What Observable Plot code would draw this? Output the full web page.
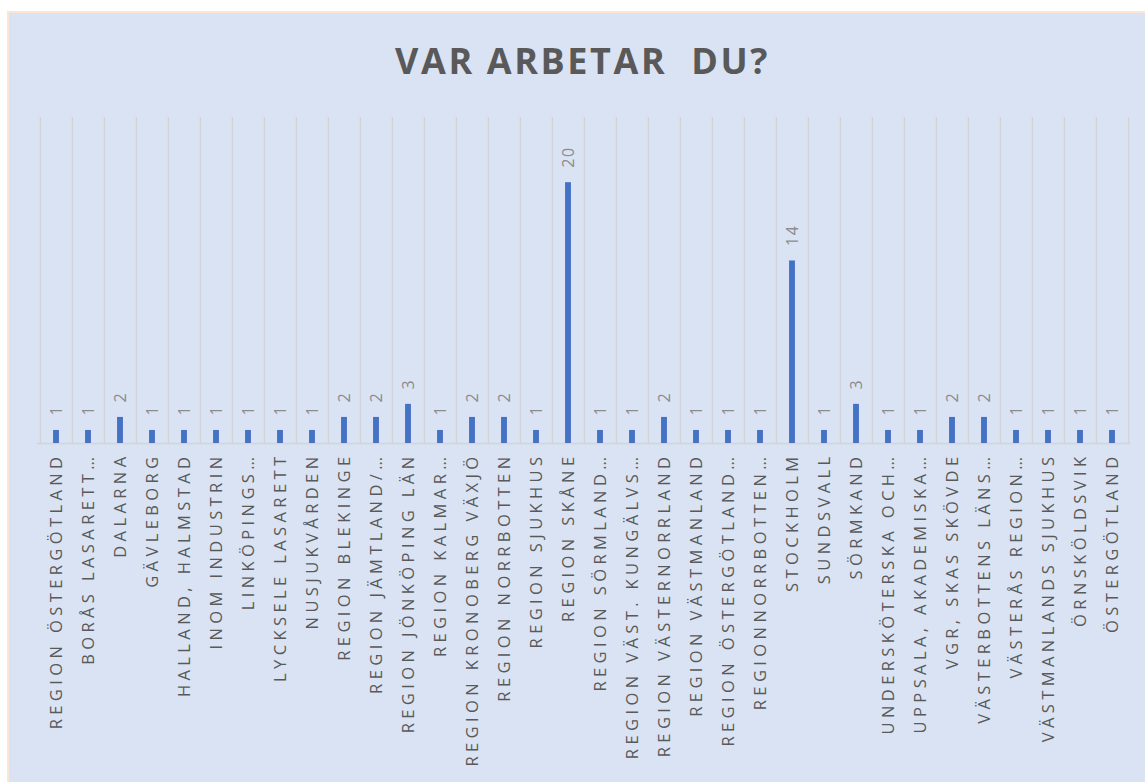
<!DOCTYPE html>
<html>
<head>
<meta charset="utf-8">
<script src="https://cdn.jsdelivr.net/npm/d3@7"></script>
<script src="https://cdn.jsdelivr.net/npm/@observablehq/plot@0.6"></script>
<style>
  html, body { margin: 0; padding: 0; background: #ffffff; }
  body { width: 1145px; height: 782px; position: relative; overflow: hidden; font-family: "Open Sans", sans-serif; }
  #panel { position: absolute; left: 7px; top: 11px; width: 1145px; height: 780px; background: #dae3f3; border: 2px solid #fbe5d6; box-sizing: border-box; }
  #title { position: absolute; left: 0; top: 37px; width: 1145px; text-align: center; font-size: 36px; font-weight: 700; color: #595959; letter-spacing: 2.6px; white-space: pre; line-height: 48px; padding-left: 20px; box-sizing: border-box; }
  #chart { position: absolute; left: 0; top: 100px; }
  #chart svg g[aria-label="x-axis tick label"] text { letter-spacing: 4.4px; }
  #chart svg g[aria-label="text"] text { letter-spacing: 1.5px; }
</style>
</head>
<body>
<div id="panel"></div>
<div id="title">VAR ARBETAR  DU?</div>
<div id="chart"></div>
<script>
const categories = [
  "REGION ÖSTERGÖTLAND",
  "BORÅS LASARETT…",
  "DALARNA",
  "GÄVLEBORG",
  "HALLAND, HALMSTAD",
  "INOM INDUSTRIN",
  "LINKÖPINGS…",
  "LYCKSELE LASARETT",
  "NUSJUKVÅRDEN",
  "REGION BLEKINGE",
  "REGION JÄMTLAND/…",
  "REGION JÖNKÖPING LÄN",
  "REGION KALMAR…",
  "REGION KRONOBERG VÄXJÖ",
  "REGION NORRBOTTEN",
  "REGION SJUKHUS",
  "REGION SKÅNE",
  "REGION SÖRMLAND…",
  "REGION VÄST. KUNGÄLVS…",
  "REGION VÄSTERNORRLAND",
  "REGION VÄSTMANLAND",
  "REGION ÖSTERGÖTLAND…",
  "REGIONNORRBOTTEN…",
  "STOCKHOLM",
  "SUNDSVALL",
  "SÖRMKAND",
  "UNDERSKÖTERSKA OCH…",
  "UPPSALA, AKADEMISKA…",
  "VGR, SKAS SKÖVDE",
  "VÄSTERBOTTENS LÄNS…",
  "VÄSTERÅS REGION…",
  "VÄSTMANLANDS SJUKHUS",
  "ÖRNSKÖLDSVIK",
  "ÖSTERGÖTLAND"
];
const values = [1, 1, 2, 1, 1, 1, 1, 1, 1, 2, 2, 3, 1, 2, 2, 1, 20, 1, 1, 2, 1, 1, 1, 14, 1, 3, 1, 1, 2, 2, 1, 1, 1, 1];
const yDomain = [0, 25];

const data = categories.map((c, i) => ({category: c, value: values[i]}));

const W = 1145, H = 682, mL = 37, mR = 15, mT = 17, mB = 339;
const step = (W - mL - mR) / categories.length;
const barWidth = 6;
const inset = (step - barWidth) / 2;
const gridColor = "#d4d4d4";

const chart = Plot.plot({
  width: W,
  height: H,
  marginLeft: mL,
  marginRight: mR,
  marginTop: mT,
  marginBottom: mB,
  style: {background: "transparent", fontFamily: "'Open Sans', sans-serif", overflow: "visible"},
  x: {domain: categories, padding: 0, axis: null},
  y: {domain: yDomain, axis: null},
  marks: [
    Plot.ruleX(categories, {x: d => d, dx: -step / 2, stroke: gridColor, strokeWidth: 1.3}),
    Plot.ruleX([categories[categories.length - 1]], {x: d => d, dx: step / 2, stroke: gridColor, strokeWidth: 1.3}),
    Plot.ruleY([0], {stroke: gridColor, strokeWidth: 1.3}),
    Plot.barY(data, {x: "category", y: "value", fill: "#4472c4", insetLeft: inset, insetRight: inset}),
    Plot.text(data, {x: "category", y: "value", text: d => String(d.value), rotate: -90, textAnchor: "start", dy: -15, fill: "#8c8c8c", fontSize: 16}),
    Plot.axisX({tickRotate: -90, tickSize: 0, tickPadding: 9, fontSize: 16.5, fill: "#595959", textStroke: "none", label: null})
  ]
});
document.getElementById("chart").appendChild(chart);
</script>
</body>
</html>
